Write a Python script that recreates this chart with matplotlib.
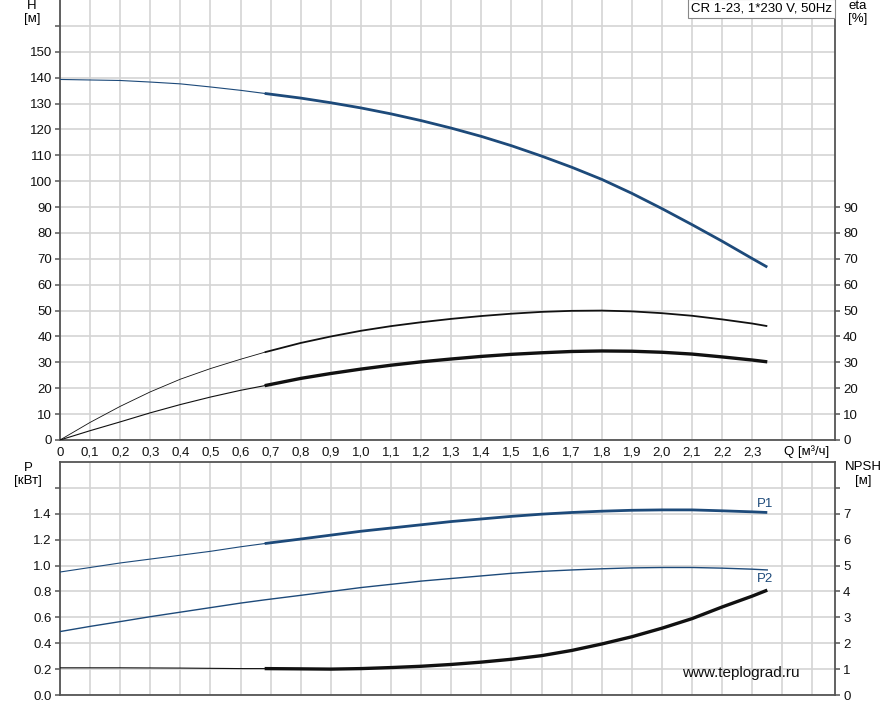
import numpy as np, matplotlib
matplotlib.use("Agg")
import matplotlib.pyplot as plt

plt.rcParams.update({"font.family": ["Liberation Sans", "DejaVu Sans"], "font.size": 9.5})
BLUE, INK, GRID, AX = "#1d4a7a", "#111111", "#d4d4d4", "#555555"

# pump curve
Q = [0, 0.1, 0.2, 0.3, 0.4, 0.5, 0.6, 0.68, 0.8, 0.9, 1.0, 1.1, 1.2, 1.3, 1.4,
     1.5, 1.6, 1.7, 1.8, 1.9, 2.0, 2.1, 2.2, 2.3, 2.35]
H = [139.3, 139.1, 138.9, 138.3, 137.6, 136.4, 135.1, 133.9, 132.1, 130.3, 128.3, 126.0,
     123.4, 120.5, 117.3, 113.7, 109.7, 105.4, 100.7, 95.3, 89.4, 83.2, 76.8, 70.1, 66.8]
eta_pump = [0, 6.8, 13.0, 18.6, 23.5, 27.6, 31.2, 33.9, 37.5, 40.0, 42.2, 44.0, 45.5, 46.8,
            47.9, 48.8, 49.5, 49.9, 50.0, 49.7, 49.0, 48.0, 46.6, 45.0, 44.0]
eta_tot = [0, 3.6, 7.0, 10.5, 13.7, 16.6, 19.2, 21.0, 23.8, 25.7, 27.4, 28.9, 30.2, 31.3,
           32.3, 33.1, 33.7, 34.2, 34.4, 34.3, 33.9, 33.2, 32.1, 30.9, 30.2]
P1 = [0.95, 0.985, 1.02, 1.05, 1.08, 1.11, 1.145, 1.17, 1.205, 1.235, 1.265, 1.29, 1.315,
      1.34, 1.36, 1.38, 1.397, 1.41, 1.42, 1.427, 1.43, 1.43, 1.423, 1.415, 1.41]
P2 = [0.49, 0.53, 0.567, 0.605, 0.64, 0.675, 0.71, 0.735, 0.77, 0.80, 0.83, 0.855, 0.88,
      0.90, 0.92, 0.94, 0.955, 0.966, 0.975, 0.982, 0.985, 0.985, 0.98, 0.972, 0.966]
NPSH = [1.05, 1.05, 1.05, 1.045, 1.04, 1.03, 1.02, 1.02, 1.01, 1.0, 1.02, 1.06, 1.11, 1.18,
        1.27, 1.38, 1.52, 1.72, 1.97, 2.25, 2.58, 2.95, 3.4, 3.82, 4.05]
Q_OP = 0.68  # start of the bold (recommended) range

xticks = np.round(np.arange(0, 2.6, 0.1), 1)
xlabels = [f"{v:.1f}".replace(".", ",") if v <= 2.3 else "" for v in xticks]
xlabels[0] = "0"

fig = plt.figure(figsize=(8.93, 7.05), dpi=100)
W, Hh = 893, 705
axt = fig.add_axes([60 / W, (Hh - 440) / Hh, 775 / W, 440 / Hh])
axb = fig.add_axes([60 / W, 10 / Hh, 775 / W, 233 / Hh])

q = np.array(Q)
thin, thick = q <= Q_OP + 1e-9, q >= Q_OP - 1e-9

def split(ax, y, col, lw_thin, lw_thick):
    y = np.array(y)
    ax.plot(q[thin], y[thin], color=col, lw=lw_thin, zorder=3)
    ax.plot(q[thick], y[thick], color=col, lw=lw_thick, zorder=3, solid_capstyle="butt")

for ax in (axt, axb):
    ax.set_xlim(0, 2.575)
    ax.set_xticks(xticks)
    ax.grid(True, color=GRID, lw=1.2)
    ax.set_axisbelow(True)
    for s in ax.spines.values():
        s.set_color(AX); s.set_linewidth(1.3)
    ax.tick_params(axis="x", length=0, pad=5, colors=INK)
    ax.tick_params(axis="y", length=3.8, width=1.1, pad=2, color=AX, colors=INK, direction="out")

# top panel: head and efficiency
axt.set_ylim(0, 170)
axt.set_yticks(np.arange(0, 170, 10))
axt.set_yticklabels([str(v) if v <= 150 else "" for v in range(0, 170, 10)])
axt.set_xticklabels(xlabels)
axt.spines["top"].set_visible(False)
for t in axt.yaxis.get_major_ticks():
    if t.get_loc() > 150: t.tick1line.set_visible(False)
split(axt, H, BLUE, 0.8, 2.0)
split(axt, eta_pump, INK, 0.6, 1.3)
split(axt, eta_tot, INK, 0.8, 2.4)
axr = axt.twinx(); axr.set_ylim(0, 170)
axr.set_yticks(np.arange(0, 100, 10))
axr.tick_params(axis="y", length=3.8, width=1.1, pad=2, color=AX, colors=INK)
for s in axr.spines.values(): s.set_visible(False)

fig.text(32 / W, 1 - 6 / Hh, "H", ha="center", va="center")
fig.text(32 / W, 1 - 19 / Hh, "[м]", ha="center", va="center")
fig.text(858 / W, 1 - 6 / Hh, "eta", ha="center", va="center")
fig.text(858 / W, 1 - 19 / Hh, "[%]", ha="center", va="center")
axt.text(2.555, -4.6, "Q [м³/ч]", ha="right", va="center", fontsize=9.5, clip_on=False)
axt.text(2.565, 166.8, "CR 1-23, 1*230 V, 50Hz", ha="right", va="center", fontsize=9.5, zorder=5,
         bbox=dict(boxstyle="square,pad=0.25", fc="white", ec="#888888", lw=0.8))

# bottom panel: power and NPSH
axb.set_ylim(0, 1.8)
axb.set_yticks(np.arange(0, 1.7, 0.2))
axb.set_yticklabels([f"{v:.1f}" if v < 1.5 else "" for v in np.arange(0, 1.7, 0.2)])
axb.set_xticklabels([])
split(axb, P1, BLUE, 0.8, 2.0)
axb.plot(Q, P2, color=BLUE, lw=1.0, zorder=3)
axn = axb.twinx(); axn.set_ylim(0, 9)
axn.set_yticks(range(0, 9))
axn.set_yticklabels([str(v) if v <= 7 else "" for v in range(0, 9)])
axn.tick_params(axis="y", length=3.8, width=1.1, pad=2, color=AX, colors=INK)
for s in axn.spines.values(): s.set_visible(False)
split(axn, NPSH, INK, 0.8, 2.4)

axb.text(2.315, 1.476, "P1", color=BLUE, fontsize=9.5, va="center")
axb.text(2.315, 0.897, "P2", color=BLUE, fontsize=9.5, va="center")
fig.text(28 / W, (Hh - 468) / Hh, "P", ha="center", va="center")
fig.text(28 / W, (Hh - 481) / Hh, "[кВт]", ha="center", va="center")
fig.text(863 / W, (Hh - 467) / Hh, "NPSH", ha="center", va="center")
fig.text(863 / W, (Hh - 481) / Hh, "[м]", ha="center", va="center")
axb.text(2.261, 0.17, "www.teplograd.ru", ha="center", va="center", fontsize=11, color=INK)

fig.savefig("out.png", dpi=100)
